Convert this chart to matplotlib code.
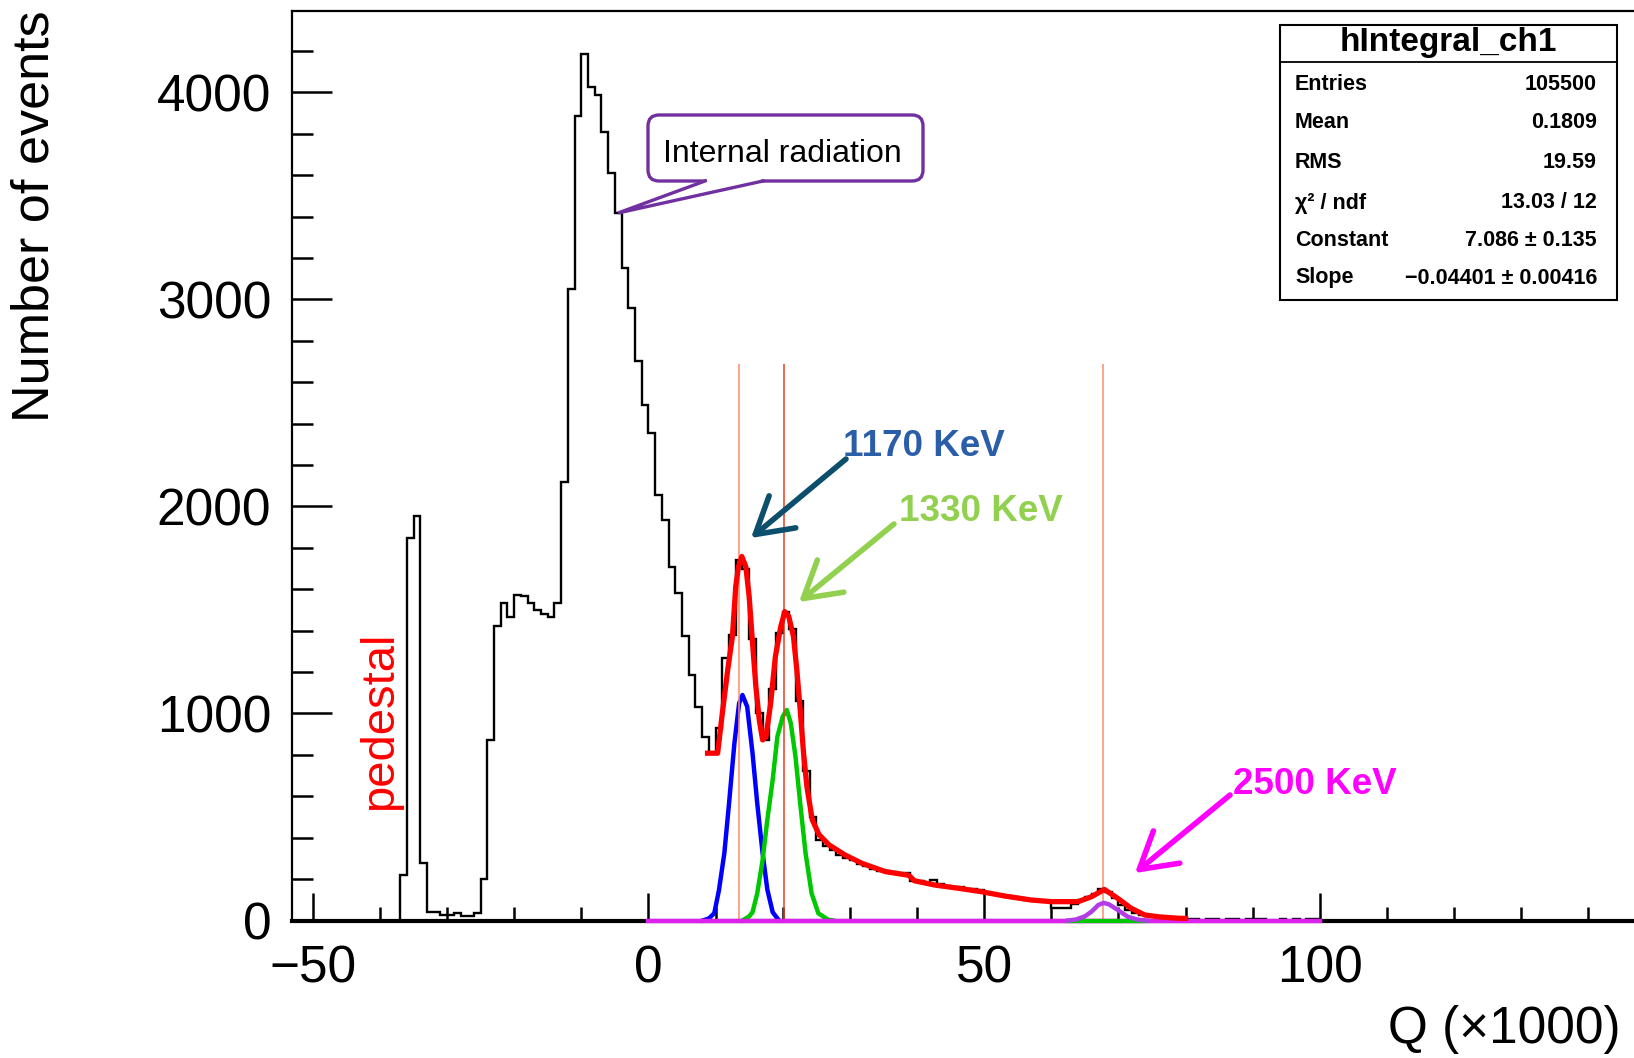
import numpy as np
import matplotlib.pyplot as plt
from matplotlib.transforms import Affine2D
from matplotlib.patches import FancyBboxPatch, Polygon, Rectangle
from matplotlib.lines import Line2D
from matplotlib.ticker import MultipleLocator

plt.rcParams['font.family'] = ['Liberation Sans', 'DejaVu Sans']

# histogram hIntegral_ch1 : bins of width 1 (x1000), first bin starts at -37
bin_start = -37
counts = [
    220, 1849, 1954, 276, 43, 43, 27, 27, 35, 24,          # -37 .. -28
    24, 35, 199, 872, 1423, 1535, 1468, 1572, 1565, 1535,   # -27 .. -18
    1500, 1481, 1468, 1535, 2120, 3049, 3886, 4186, 4025, 3988,  # -17 .. -8
    3806, 3612, 3416, 3151, 2957, 2700, 2490, 2354, 2056, 1932,  # -7 .. 2
    1709, 1581, 1376, 1186, 1033, 888, 808, 930, 1270, 1380,     # 3 .. 12
    1740, 1700, 1360, 1000, 870, 1120, 1390, 1490, 1410, 1060,   # 13 .. 22
    720, 500, 390, 360, 340, 315, 300, 290, 275, 262,            # 23 .. 32
    250, 240, 240, 232, 230, 228, 192, 190, 180, 195,            # 33 .. 42
    175, 168, 160, 160, 150, 150, 145, 135, 128, 125,            # 43 .. 52
    120, 115, 108, 100, 100, 95, 92, 62, 58, 62,                 # 53 .. 62
    80, 100, 112, 130, 150, 140, 110, 75, 50, 35,                # 63 .. 72
    25, 20, 15, 12, 10, 8, 10, 8, 6, 0,                          # 73 .. 82
    6, 6, 0, 6, 5, 0, 7, 7, 6, 0,                                # 83 .. 92
    0, 6, 0, 7, 0, 5, 5,                                         # 93 .. 99
]

# total fit (red)
fit_x = [8.8, 10.3, 11.0, 11.8, 12.5, 13.0, 13.4, 13.9, 14.5, 15.0,
         15.5, 16.0, 16.5, 17.0, 17.5, 18.2, 18.9, 19.7, 20.3, 20.9,
         21.6, 22.1, 22.6, 23.1, 23.6, 24.4, 25.4, 26.9, 29.3, 31.8,
         35.3, 38.8, 39.6, 42.7, 46.1, 49.6, 53.1, 57.0, 60.0, 64.0,
         66.0, 67.9, 69.9, 71.9, 73.9, 75.9, 78.8, 80.0]
fit_y = [808, 808, 1001, 1210, 1371, 1613, 1709, 1758, 1709, 1564,
         1339, 1130, 969, 872, 888, 1049, 1274, 1419, 1492, 1468,
         1371, 1210, 1017, 808, 646, 486, 415, 365, 316, 276,
         236, 218, 192, 171, 156, 139, 118, 99, 91, 91,
         115, 150, 107, 59, 27, 18, 11, 10]

# 1170 keV peak (blue)
g1170_x = [8.1, 9.0, 9.8, 10.5, 11.3, 12.0, 12.8, 13.5, 14.0, 14.7,
           15.5, 16.2, 17.0, 17.7, 18.5, 19.4]
g1170_y = [0, 10, 35, 147, 325, 566, 856, 1049, 1089, 1033,
           808, 566, 325, 150, 40, 2]

# 1330 keV peak (green)
g1330_x = [14.0, 15.0, 15.5, 16.2, 17.0, 17.7, 18.5, 19.2, 20.0, 20.6,
           21.2, 21.9, 22.6, 23.4, 24.3, 25.3, 26.8, 27.5]
g1330_y = [0, 20, 40, 131, 292, 486, 679, 888, 985, 1017,
           953, 791, 566, 325, 131, 35, 3, 0]
g_flat_x = [62.5, 74.0]
g_flat_y = [0, 0]

# 2500 keV peak (violet) and magenta function range
g2500_x = [62.5, 63.7, 65.0, 66.0, 67.0, 67.8, 68.6, 69.9, 71.4, 72.9, 74.3]
g2500_y = [0, 5, 20, 43, 75, 85, 78, 51, 18, 4, 0]
base_x = [0, 100]
base_y = [0, 0]

peak_lines = [13.5, 20.2, 67.7]
peak_colors = ['#FF8A66', '#E8401C', '#FF8A66']
line_top = 2690

stats_title = 'hIntegral_ch1'
stats_names = ['Entries', 'Mean', 'RMS', 'χ² / ndf', 'Constant', 'Slope']
stats_values = ['105500', '0.1809', '19.59', '13.03 / 12',
                '7.086 ± 0.135', '−0.04401 ± 0.00416']

W, H = 1634, 1058
fig = plt.figure(figsize=(W / 100, H / 100), dpi=100)
# pixel coords measured from top-left of the image
pix = Affine2D().scale(1 / W, -1 / H).translate(0, 1) + fig.transFigure

ax = fig.add_axes([292 / W, (H - 920.5) / H, (W - 292) / W, (920.5 - 10.7) / H])
ax.set_xlim(-53.1, 146.8)
ax.set_ylim(0, 4394)

edges = np.arange(bin_start, bin_start + len(counts) + 1)
ax.stairs(counts, edges, baseline=0, color='black', lw=1.7, zorder=2)

ax.plot(g1170_x, g1170_y, color='#0000FF', lw=3.2, zorder=2.2, clip_on=False)
ax.plot(g1330_x, g1330_y, color='#00C800', lw=3.2, zorder=2.2, clip_on=False)
ax.vlines(peak_lines, 0, line_top, colors=peak_colors, lw=1.1, zorder=2.4)
ax.plot(base_x, base_y, color='#DD22EE', lw=3.2, zorder=3, clip_on=False)
ax.plot(g_flat_x, g_flat_y, color='#00C800', lw=3, zorder=3.1, clip_on=False)
ax.plot(g2500_x, g2500_y, color='#B23CE8', lw=3.2, zorder=3.2, clip_on=False)
ax.plot(fit_x, fit_y, color='#FF0000', lw=3.8, zorder=3.5)

for s in ['left', 'top']:
    ax.spines[s].set_linewidth(1.6)
ax.spines['bottom'].set_linewidth(3)
ax.spines['right'].set_visible(False)

ax.xaxis.set_major_locator(MultipleLocator(50))
ax.xaxis.set_minor_locator(MultipleLocator(10))
ax.yaxis.set_major_locator(MultipleLocator(1000))
ax.yaxis.set_minor_locator(MultipleLocator(200))
ax.tick_params(axis='x', which='major', direction='in', length=20, width=1.8,
               labelsize=37, pad=17)
ax.tick_params(axis='x', which='minor', direction='in', length=10, width=1.8)
ax.tick_params(axis='y', which='major', direction='in', length=29, width=1.8,
               labelsize=37, pad=15)
ax.tick_params(axis='y', which='minor', direction='in', length=15, width=1.8)

# axis titles
fig.text(35, 10, 'Number of events', transform=pix, rotation=90,
         ha='center', va='top', fontsize=37.5)
fig.text(1621, 1029, 'Q (×1000)', transform=pix, ha='right', va='center',
         fontsize=37)

# stats box
fig.add_artist(Rectangle((1280, 25), 337, 275, transform=pix, fc='white',
                         ec='black', lw=1.5, zorder=10))
fig.add_artist(Line2D([1280, 1617], [62, 62], transform=pix, color='black',
                      lw=1.3, zorder=11))
fig.text(1448.5, 43, stats_title, transform=pix, ha='center', va='center',
         fontsize=24, fontweight='bold', zorder=12)
row_y = [84, 123, 163, 203, 240, 278]
for yy, name, val in zip(row_y, stats_names, stats_values):
    fig.text(1295, yy, name, transform=pix, ha='left', va='center',
             fontsize=15.5, fontweight='bold', zorder=12)
    fig.text(1597, yy, val, transform=pix, ha='right', va='center',
             fontsize=15.5, fontweight='bold', zorder=12)

# callout "Internal radiation"
purple = '#7030A0'
fig.add_artist(FancyBboxPatch((648, 115), 275, 66, transform=pix,
                              boxstyle='round,pad=0,rounding_size=11',
                              fc='white', ec=purple, lw=2.4, zorder=10))
fig.add_artist(Polygon([(707, 177), (761, 177), (761, 181), (618, 213), (707, 181)],
                       closed=True, transform=pix, fc='white', ec='none', zorder=11))
fig.add_artist(Line2D([705, 618, 763], [181, 213, 181], transform=pix,
                      color=purple, lw=2.4, zorder=12, solid_joinstyle='miter'))
fig.text(782.5, 161.5, 'Internal radiation', transform=pix, ha='center',
         va='baseline', fontsize=23, zorder=13)

# peak labels
fig.text(380, 721, 'pedestal', transform=pix, rotation=90, ha='center',
         va='center', fontsize=34, color='#FF0000')

labels = [('1170 KeV', (843, 456), '#2B5EA8', (846, 459), (751, 538), '#0B4F6C'),
          ('1330 KeV', (899, 521), '#92D050', (894, 524), (799, 602), '#92D050'),
          ('2500 KeV', (1233, 794), '#FF00FF', (1230, 795), (1135, 873), '#FF00FF')]
for txt, pos, tcol, tail, tip, acol in labels:
    fig.text(pos[0], pos[1], txt, transform=pix, ha='left', va='baseline',
             fontsize=26.5, fontweight='bold', color=tcol)
    ax.annotate('', xy=tip, xytext=tail, xycoords=pix, textcoords=pix,
                annotation_clip=False,
                arrowprops=dict(arrowstyle='->,head_length=0.85,head_width=0.5',
                                color=acol, lw=4, shrinkA=0, shrinkB=0,
                                mutation_scale=30))

fig.savefig('out.png', dpi=100)
